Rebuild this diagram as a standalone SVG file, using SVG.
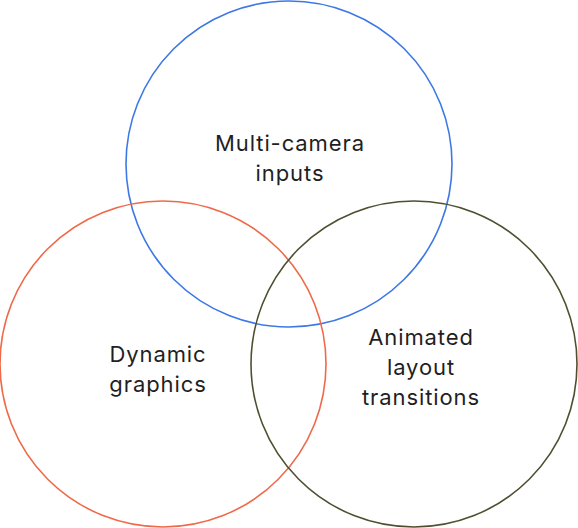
<svg xmlns="http://www.w3.org/2000/svg" width="578" height="528" viewBox="0 0 578 528">
<style>
.c{fill:none;stroke-width:1.6}
text{font-family:Inter,"Open Sans","Liberation Sans",sans-serif;font-size:22px;letter-spacing:0.9px;fill:#1f1f1f;text-anchor:middle}
</style>
<rect width="578" height="528" fill="#fff"/>
<g id="camera"><circle class="c" cx="289" cy="164" r="163" stroke="#3d78e6"/>
<text x="290" y="151">Multi-camera</text><text x="290" y="181">inputs</text></g>
<g id="graphics"><circle class="c" cx="163" cy="364" r="163" stroke="#ee6a48"/>
<text x="158" y="362">Dynamic</text><text x="158" y="392">graphics</text></g>
<g id="layout"><circle class="c" cx="414" cy="364" r="163" stroke="#4f4f30"/>
<text x="421" y="345">Animated</text><text x="421" y="375">layout</text><text x="421" y="405">transitions</text></g>
<g id="connectors"/>
</svg>
